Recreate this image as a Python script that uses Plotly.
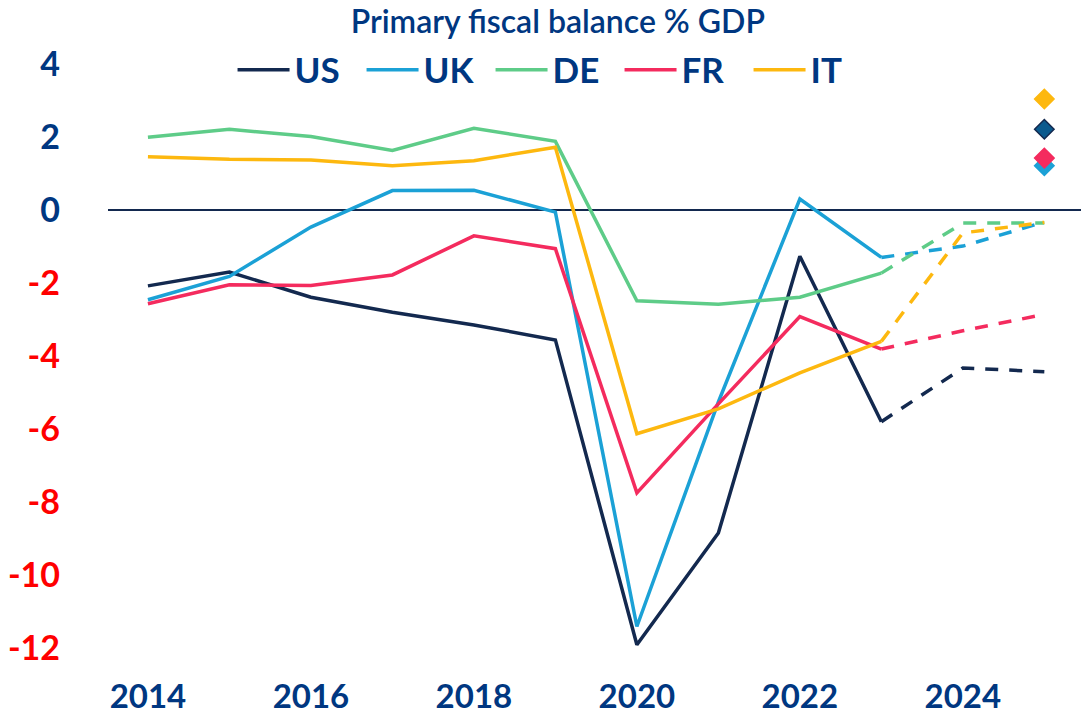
import plotly.graph_objects as go

# ---- data ----
years_hist = [2014, 2015, 2016, 2017, 2018, 2019, 2020, 2021, 2022, 2023]
years_fc = [2023, 2024, 2025]

us_hist = [-2.07, -1.69, -2.38, -2.79, -3.14, -3.55, -11.9, -8.84, -1.26, -5.79]
uk_hist = [-2.45, -1.81, -0.46, 0.54, 0.55, -0.05, -11.4, -5.25, 0.31, -1.29]
de_hist = [2.00, 2.22, 2.02, 1.64, 2.25, 1.89, -2.48, -2.57, -2.38, -1.72]
fr_hist = [-2.56, -2.04, -2.06, -1.77, -0.70, -1.05, -7.74, -5.30, -2.91, -3.80]
it_hist = [1.47, 1.40, 1.38, 1.22, 1.36, 1.73, -6.12, -5.44, -4.45, -3.59]

us_fc = [-5.79, -4.32, -4.42]
uk_fc = [-1.29, -0.98, -0.32]
de_fc = [-1.72, -0.35, -0.35]
fr_fc = [-3.80, -3.30, -2.85]
it_fc = [-3.59, -0.62, -0.33]

marker_year = 2025
marker_it = 3.05
marker_us = 2.22
marker_fr = 1.43
marker_uk = 1.22

x_tickvals = [2014, 2016, 2018, 2020, 2022, 2024]
y_tickvals = [4, 2, 0, -2, -4, -6, -8, -10, -12]

# ---- styles ----
C_US = "#13294F"
C_UK = "#1BA1D6"
C_DE = "#5ECC88"
C_FR = "#F42B5E"
C_IT = "#FDB80F"
BLUE = "#003781"
RED = "#FF0000"
FONT = "Lato"

series = [
    ("US", C_US, us_hist, us_fc),
    ("UK", C_UK, uk_hist, uk_fc),
    ("DE", C_DE, de_hist, de_fc),
    ("FR", C_FR, fr_hist, fr_fc),
    ("IT", C_IT, it_hist, it_fc),
]

fig = go.Figure()
for name, col, hist, fc in series:
    fig.add_trace(go.Scatter(x=years_hist, y=hist, mode="lines", name=name,
                             line=dict(color=col, width=3.5), legendgroup=name))
for name, col, hist, fc in series:
    fig.add_trace(go.Scatter(x=years_fc, y=fc, mode="lines", name=name + " f",
                             line=dict(color=col, width=3.5, dash="13px,11px"),
                             showlegend=False, legendgroup=name))

# diamonds (blue before red so red sits on top)
for val, fill, edge in [(marker_it, C_IT, C_IT), (marker_us, "#0B5A8E", C_US),
                        (marker_uk, C_UK, C_UK), (marker_fr, C_FR, C_FR)]:
    fig.add_trace(go.Scatter(x=[marker_year], y=[val], mode="markers", showlegend=False,
                             marker=dict(symbol="diamond", size=15, color=fill,
                                         line=dict(color=edge, width=1.5))))

ticktext = []
for v in y_tickvals:
    c = BLUE if v >= 0 else RED
    ticktext.append(f"<span style='color:{c}'>{v}</span>")

fig.update_layout(
    width=1081, height=715,
    paper_bgcolor="white", plot_bgcolor="white",
    margin=dict(l=108, r=0, t=57, b=52, autoexpand=False),
    font=dict(family=FONT, color=BLUE),
    title=dict(text="Primary fiscal balance % GDP", x=0.516, xanchor="center",
               y=1 - 22 / 715, yanchor="middle", yref="container",
               font=dict(family=FONT, size=32, color=BLUE, weight=600)),
    legend=dict(orientation="h", x=0.128, xanchor="left", xref="paper",
                y=1 - 70 / 715, yanchor="middle", yref="container",
                font=dict(family=FONT, size=35, color=BLUE, weight="bold"),
                bgcolor="rgba(0,0,0,0)", itemwidth=52, tracegroupgap=0,
                entrywidth=62, entrywidthmode="pixels"),
    showlegend=True,
)
fig.update_xaxes(range=[2013.51, 2025.45], tickvals=x_tickvals, showgrid=False,
                 zeroline=False, showline=False, ticks="",
                 tickfont=dict(family=FONT, size=33, color=BLUE, weight="bold"),
                 ticklabelstandoff=11)
fig.update_yaxes(range=[-12.4, 4.2], tickvals=y_tickvals, ticktext=ticktext,
                 showgrid=False, zeroline=True, zerolinecolor=C_US, zerolinewidth=1.5,
                 showline=False, ticks="",
                 tickfont=dict(family=FONT, size=34, color=BLUE, weight="bold"),
                 ticklabelstandoff=47)

fig.write_html("out.html", config={"displayModeBar": False},
               post_script="document.body.style.margin='0';")
